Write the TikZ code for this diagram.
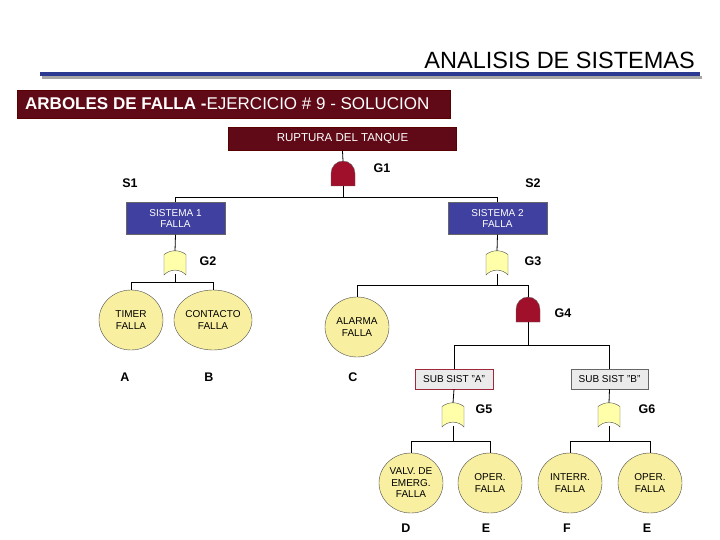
\documentclass[tikz,border=0pt]{standalone}
\usepackage{fontspec}
\setmainfont{Liberation Sans}
\usetikzlibrary{shapes.geometric}
\definecolor{dred}{RGB}{95,10,22}
\definecolor{gred}{RGB}{160,16,42}
\definecolor{sblue}{RGB}{64,64,160}
\definecolor{tblue}{RGB}{43,57,144}
\definecolor{evy}{RGB}{248,240,160}
\definecolor{gy}{RGB}{255,255,170}
\definecolor{sared}{RGB}{160,40,60}
\begin{document}
\begin{tikzpicture}[x=1pt,y=-1pt,
  lbl/.style={font=\fontsize{12.5}{12}\selectfont\bfseries},
  sm/.style={font=\fontsize{10}{11.5}\selectfont,align=center},
  redbox/.style={draw=red!35!black,line width=1pt,fill=dred,text=white,inner sep=0},
  bluebox/.style={draw=black!60,fill=sblue,text=white,inner sep=0,sm},
  ev/.style={draw=black!70,fill=evy,ellipse,minimum width=64,minimum height=60,inner sep=0,sm},
  gbox/.style={fill=black!8,inner sep=0,sm},
  wire/.style={draw=black,line width=0.8pt}]
\useasboundingbox (0,0) rectangle (720,540);
\tikzset{andg/.pic={\draw[fill=gred,draw=black!60] (-12,12.5) -- (-12,0) arc[start angle=180,end angle=360,x radius=12,y radius=12.5] -- (12,12.5) -- cycle;},
 org/.pic={\draw[fill=gy,draw=black!70] (-11,12.5) -- (-11,-8) .. controls (-4,-13) and (4,-13) .. (11,-8) -- (11,12.5) .. controls (5,6) and (-5,6) .. (-11,12.5) -- cycle;}}
% title
\node[anchor=south east,font=\fontsize{23.5}{24}\selectfont,inner sep=0] (title) at (695,69) {ANALISIS DE SISTEMAS};
\fill[black!35] (42,76) rectangle (702,79);
\fill[tblue] (40,72.5) rectangle (700,76.5);
\node[redbox,minimum width=433,minimum height=28,anchor=north west] (hdr) at (17,90) {};
\node[anchor=west,text=white,font=\fontsize{17}{17}\selectfont,inner sep=0] (hdrt) at (25,104) {\textbf{ARBOLES DE FALLA -}EJERCICIO \# 9 - SOLUCION};
% top
\node[redbox,minimum width=228,minimum height=23,font=\fontsize{11.5}{12}\selectfont] (top) at (342.5,139) {RUPTURA DEL TANQUE};
\pic at (343,173.5) {andg};
\coordinate (g1t) at (343,161); \coordinate (g1b) at (343,186);
\node[lbl] (G1) at (382,168) {G1};
\node[lbl] (S1) at (130,183) {S1};
\node[lbl] (S2) at (533,183) {S2};
\node[bluebox,minimum width=99,minimum height=32] (s1) at (175.5,218.5) {SISTEMA 1\\FALLA};
\node[bluebox,minimum width=99,minimum height=32] (s2) at (497.5,218.5) {SISTEMA 2\\FALLA};
\draw[wire] (top.south) -- (g1t);
\draw[wire] (g1b) -- (343,197) -| (s1.north);
\draw[wire] (343,197) -| (s2.north);
% G2
\pic at (175,262.5) {org};
\node[lbl] (G2) at (208,261) {G2};
\coordinate (g2t) at (175,251); \coordinate (g2b) at (175,274);
\node[ev] (tim) at (131,320) {TIMER\\FALLA};
\node[ev] (con) at (213,320) {CONTACTO\\FALLA};
\draw[wire] (s1.south) -- (g2t);
\draw[wire] (g2b) -- (175,282) -| (tim.north);
\draw[wire] (175,282) -| (con.north);
\node[lbl] (A) at (125,377) {A};
\node[lbl] (B) at (209,377) {B};
% G3
\pic at (497,262.5) {org};
\node[lbl] (G3) at (533,261) {G3};
\coordinate (g3t) at (497,251); \coordinate (g3b) at (497,274);
\draw[wire] (s2.south) -- (g3t);
\node[ev] (ala) at (357,327) {ALARMA\\FALLA};
\node[lbl] (C) at (353,377) {C};
\pic at (528,309.5) {andg};
\coordinate (g4t) at (528,297); \coordinate (g4b) at (528,322);
\node[lbl] (G4) at (563,313) {G4};
\draw[wire] (g3b) -- (497,285) -| (ala.north);
\draw[wire] (497,285) -| (g4t);
\node[gbox,draw=sared,minimum width=78,minimum height=20] (sa) at (454,379) {SUB SIST "A"};
\node[gbox,draw=black!60,minimum width=77,minimum height=20] (sb) at (609.5,379) {SUB SIST "B"};
\draw[wire] (g4b) -- (528,345) -| (sa.north);
\draw[wire] (528,345) -| (sb.north);
% G5 G6
\pic at (453,414.5) {org};
\coordinate (g5t) at (453,403); \coordinate (g5b) at (453,426);
\node[lbl] (G5) at (484,409) {G5};
\pic at (609,414.5) {org};
\coordinate (g6t) at (609,403); \coordinate (g6b) at (609,426);
\node[lbl] (G6) at (647,409) {G6};
\draw[wire] (sa.south) -- (g5t);
\draw[wire] (sb.south) -- (g6t);
\node[ev] (d) at (411,483) {VALV. DE\\EMERG.\\FALLA};
\node[ev] (e1) at (490,483) {OPER.\\FALLA};
\node[ev] (f) at (570,483) {INTERR.\\FALLA};
\node[ev] (e2) at (650,483) {OPER.\\FALLA};
\draw[wire] (g5b) -- (453,441) -| (d.north);
\draw[wire] (453,441) -| (e1.north);
\draw[wire] (g6b) -- (609,441) -| (f.north);
\draw[wire] (609,441) -| (e2.north);
\node[lbl] (D) at (406,528) {D};
\node[lbl] (E1) at (486,528) {E};
\node[lbl] (F) at (567,528) {F};
\node[lbl] (E2) at (647,528) {E};
\end{tikzpicture}
\end{document}
